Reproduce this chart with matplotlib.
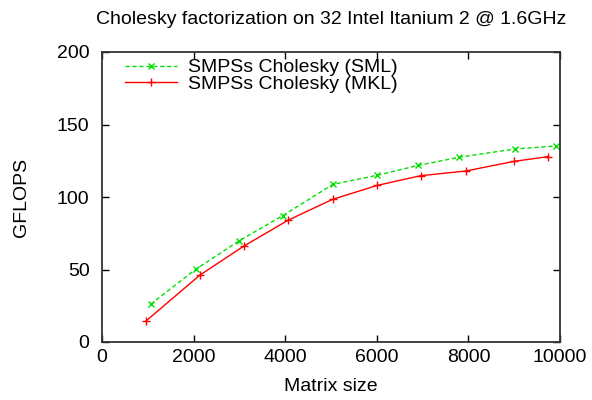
import matplotlib
matplotlib.use("Agg")
import matplotlib.pyplot as plt

plt.rcParams['font.family'] = ['Liberation Sans', 'DejaVu Sans']

# data
sml_size = [1060, 2045, 3000, 3945, 5040, 6010, 6905, 7795, 9010, 9920]
sml_gflops = [26, 50.1, 69.9, 87.1, 108.7, 115, 121.8, 127.4, 133.1, 135.2]
mkl_size = [960, 2140, 3100, 4070, 5035, 6010, 6960, 7940, 9000, 9730]
mkl_gflops = [14.5, 46.2, 66.2, 84.1, 98.4, 108, 114.7, 117.9, 124.6, 127.8]

fig = plt.figure(figsize=(5.92, 4.0), dpi=100)
ax = fig.add_axes([102 / 592, 1 - 342 / 400, 458 / 592, 290 / 400])

ax.plot(sml_size, sml_gflops, color='#00e000', linestyle=(0, (3, 2)), linewidth=1,
        marker='x', markersize=5, markeredgewidth=1, label='SMPSs Cholesky (SML)')
ax.plot(mkl_size, mkl_gflops, color='#ff0000', linestyle='-', linewidth=1,
        marker='+', markersize=6, markeredgewidth=1, label='SMPSs Cholesky (MKL)')

ax.set_xlim(0, 10000)
ax.set_ylim(0, 200)
ax.set_xticks([0, 2000, 4000, 6000, 8000, 10000])
ax.set_yticks([0, 50, 100, 150, 200])
ax.tick_params(direction='in', top=True, right=True, labelsize=14, length=5, width=1)
ax.tick_params(axis='x', pad=5)
ax.tick_params(axis='y', pad=9)
for s in ax.spines.values():
    s.set_linewidth(1.3)
    s.set_color('#333333')

ax.set_xlabel('Matrix size', fontsize=14, labelpad=9)
ax.set_ylabel('GFLOPS', fontsize=14, labelpad=19)
fig.text(331 / 592, 1 - 19 / 400, 'Cholesky factorization on 32 Intel Itanium 2 @ 1.6GHz',
         ha='center', va='center', fontsize=14)

ax.legend(loc='upper left', frameon=False, fontsize=14, handlelength=2.7,
          borderaxespad=0.0, labelspacing=-0.05, handletextpad=0.55,
          borderpad=0.35, bbox_to_anchor=(0.035, 1.0))

fig.savefig('out.png', dpi=100)
